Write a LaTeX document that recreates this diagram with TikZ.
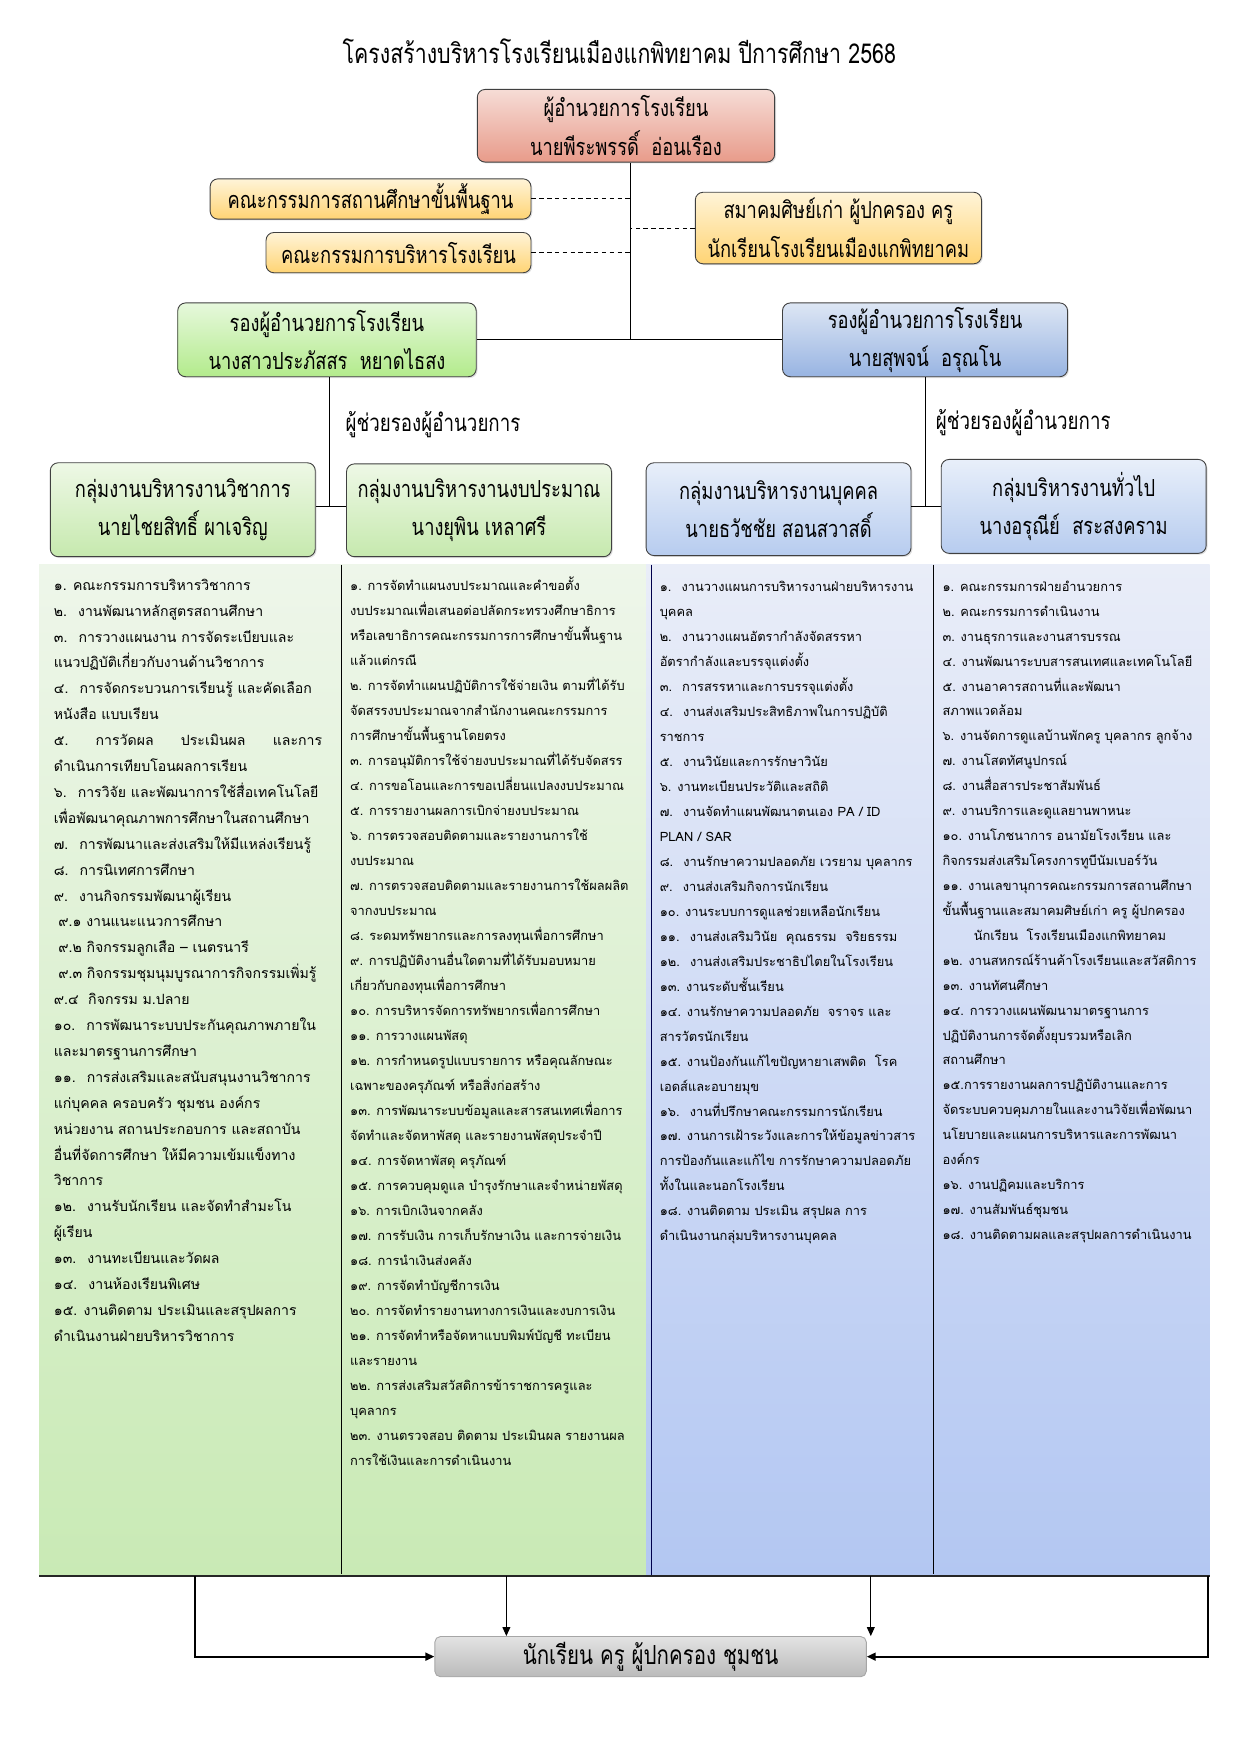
\documentclass[tikz,border=0pt]{standalone}
\usepackage{fontspec}
\setmainfont{Loma}[Script=Thai]
\newfontfamily\hd[Script=Thai,FakeStretch=0.78]{Loma}
\newfontfamily\lst[Script=Thai]{Loma}
\usetikzlibrary{arrows.meta,shadows}
\definecolor{dirTop}{HTML}{F6DCD6}\definecolor{dirBot}{HTML}{E89B8A}
\definecolor{comTop}{HTML}{FFF4D8}\definecolor{comBot}{HTML}{FFD474}
\definecolor{dlTop}{HTML}{E6F8DC}\definecolor{dlBot}{HTML}{B3EB8C}
\definecolor{drTop}{HTML}{DDE6F4}\definecolor{drBot}{HTML}{98B4E2}
\definecolor{ggTop}{HTML}{EEF8E6}\definecolor{ggBot}{HTML}{C6E9AE}
\definecolor{gbTop}{HTML}{E8EFFA}\definecolor{gbBot}{HTML}{B7CCEF}
\definecolor{cgTop}{HTML}{EEF6EA}\definecolor{cgBot}{HTML}{C9EAB5}
\definecolor{cbTop}{HTML}{E9EDF8}\definecolor{cbBot}{HTML}{B3C7F2}
\definecolor{btTop}{HTML}{E2E2E2}\definecolor{btBot}{HTML}{BABABA}
\begin{document}
\begin{tikzpicture}[x=1pt,y=-1pt,
  box/.style={draw=black!75, line width=0.8pt, rounded corners=7pt, align=center,
    inner sep=0pt, font=\hd\fontsize{21}{34.5}\selectfont,
    drop shadow={opacity=0.25,shadow xshift=1.2pt,shadow yshift=-1.2pt}},
  conn/.style={line width=1.2pt, black},
  dashln/.style={line width=0.9pt, dash pattern=on 4pt off 3pt},
  lab/.style={font=\hd\fontsize{21.5}{24}\selectfont, anchor=west, inner sep=0pt},
  itm/.style={anchor=base west, inner sep=0pt, font=\lst\fontsize{12.6}{15}\selectfont},
  itms/.style={anchor=base west, inner sep=0pt, font=\lst\fontsize{11.5}{14}\selectfont},
  arr/.style={-{Triangle[length=8pt,width=7pt]}}]
\useasboundingbox (0,0) rectangle (1110,1570);

% title
\node[font=\hd\fontsize{24.5}{28}\selectfont, inner sep=0pt] (title) at (554,46) {โครงสร้างบริหารโรงเรียนเมืองแกพิทยาคม ปีการศึกษา 2568};

% column backgrounds
\path[top color=cgTop, bottom color=cgBot] (35,505) rectangle (578,1410);
\path[top color=cbTop, bottom color=cbBot] (578,505) rectangle (1082,1410);
\draw[line width=0.7pt] (305,505) -- (305,1408);
\draw[line width=1pt, color=black!70!blue] (583,505) -- (583,1410);
\draw[line width=0.7pt] (835,505) -- (835,1408);
\draw[line width=2pt, black!85] (35,1410) -- (1082,1410);

% top boxes
\node[box, top color=dirTop, bottom color=dirBot, minimum width=266pt, minimum height=65pt] (dir) at (560,112.5) {ผู้อำนวยการโรงเรียน\\นายพีระพรรดิ์~ อ่อนเรือง};
\node[box, top color=comTop, bottom color=comBot, minimum width=287pt, minimum height=36pt] (com1) at (331.5,178) {คณะกรรมการสถานศึกษาขั้นพื้นฐาน};
\node[box, top color=comTop, bottom color=comBot, minimum width=237pt, minimum height=36pt] (com2) at (356.5,226) {คณะกรรมการบริหารโรงเรียน};
\node[box, top color=comTop, bottom color=comBot, minimum width=256pt, minimum height=64pt] (com3) at (750,204) {สมาคมศิษย์เก่า ผู้ปกครอง ครู\\นักเรียนโรงเรียนเมืองแกพิทยาคม};
\node[box, top color=dlTop, bottom color=dlBot, minimum width=267pt, minimum height=66pt] (depL) at (292.5,304) {รองผู้อำนวยการโรงเรียน\\นางสาวประภัสสร~ หยาดไธสง};
\node[box, top color=drTop, bottom color=drBot, minimum width=255pt, minimum height=66pt] (depR) at (827.5,304) {รองผู้อำนวยการโรงเรียน\\นายสุพจน์~ อรุณโน};

\coordinate (jt) at (564,303);
\draw[conn] (dir.south -| jt) -- (jt);
\draw[conn] (depL.east) -- (depR.west);
\draw[dashln] (com1.east) -- (com1.east -| jt);
\draw[dashln] (com2.east) -- (com2.east -| jt);
\draw[dashln] (com3.west) -- (com3.west -| jt);

% group boxes
\node[box, top color=ggTop, bottom color=ggBot, minimum width=237pt, minimum height=84pt] (g1) at (163.5,456) {กลุ่มงานบริหารงานวิชาการ\\นายไชยสิทธิ์ ผาเจริญ};
\node[box, top color=ggTop, bottom color=ggBot, minimum width=237pt, minimum height=83pt] (g2) at (428.5,456.5) {กลุ่มงานบริหารงานงบประมาณ\\นางยุพิน เหลาศรี};
\node[box, top color=gbTop, bottom color=gbBot, minimum width=237pt, minimum height=83pt] (g3) at (696.5,455.5) {กลุ่มงานบริหารงานบุคคล\\นายธวัชชัย สอนสวาสดิ์};
\node[box, top color=gbTop, bottom color=gbBot, minimum width=237pt, minimum height=84pt] (g4) at (960.5,453) {กลุ่มบริหารงานทั่วไป\\นางอรุณีย์~ สระสงคราม};

\coordinate (jl) at (295,453);
\coordinate (jr) at (828,453);
\draw[conn] (depL.south -| jl) -- (jl);
\draw[conn] (g1.east |- jl) -- (g2.west |- jl);
\draw[conn] (depR.south -| jr) -- (jr);
\draw[conn] (g3.east |- jr) -- (g4.west |- jr);
\node[lab] (labL) at (309,380) {ผู้ช่วยรองผู้อำนวยการ};
\node[lab] (labR) at (837,378) {ผู้ช่วยรองผู้อำนวยการ};

% column 1
\foreach \t [count=\i from 0] in {
๑. คณะกรรมการบริหารวิชาการ,
๒.~ งานพัฒนาหลักสูตรสถานศึกษา,
๓.~ การวางแผนงาน การจัดระเบียบและ,
แนวปฏิบัติเกี่ยวกับงานด้านวิชาการ,
๔.~ การจัดกระบวนการเรียนรู้ และคัดเลือก,
หนังสือ แบบเรียน,
{\hbox to 240pt{๕.\hfill การวัดผล\hfill ประเมินผล\hfill และการ}},
ดำเนินการเทียบโอนผลการเรียน,
๖.~ การวิจัย และพัฒนาการใช้สื่อเทคโนโลยี,
เพื่อพัฒนาคุณภาพการศึกษาในสถานศึกษา,
๗.~ การพัฒนาและส่งเสริมให้มีแหล่งเรียนรู้,
๘.~ การนิเทศการศึกษา,
๙.~ งานกิจกรรมพัฒนาผู้เรียน,
\hspace*{4pt}๙.๑ งานแนะแนวการศึกษา,
\hspace*{4pt}๙.๒ กิจกรรมลูกเสือ – เนตรนารี,
\hspace*{4pt}๙.๓ กิจกรรมชุมนุมบูรณาการกิจกรรมเพิ่มรู้,
๙.๔~ กิจกรรม ม.ปลาย,
๑๐.~ การพัฒนาระบบประกันคุณภาพภายใน,
และมาตรฐานการศึกษา,
๑๑.~ การส่งเสริมและสนับสนุนงานวิชาการ,
แก่บุคคล ครอบครัว ชุมชน องค์กร,
หน่วยงาน สถานประกอบการ และสถาบัน,
อื่นที่จัดการศึกษา ให้มีความเข้มแข็งทาง,
วิชาการ,
๑๒.~ งานรับนักเรียน และจัดทำสำมะโน,
ผู้เรียน,
๑๓.~ งานทะเบียนและวัดผล,
๑๔.~ งานห้องเรียนพิเศษ,
๑๕. งานติดตาม ประเมินและสรุปผลการ,
ดำเนินงานฝ่ายบริหารวิชาการ}
  \node[itm] (ca\i) at (48,528+\i*23.17) {\t};

% column 2
\foreach \t [count=\i from 0] in {
๑. การจัดทำแผนงบประมาณและคำขอตั้ง,
งบประมาณเพื่อเสนอต่อปลัดกระทรวงศึกษาธิการ,
หรือเลขาธิการคณะกรรมการการศึกษาขั้นพื้นฐาน,
แล้วแต่กรณี,
๒. การจัดทำแผนปฏิบัติการใช้จ่ายเงิน ตามที่ได้รับ,
จัดสรรงบประมาณจากสำนักงานคณะกรรมการ,
การศึกษาขั้นพื้นฐานโดยตรง,
๓. การอนุมัติการใช้จ่ายงบประมาณที่ได้รับจัดสรร,
๔. การขอโอนและการขอเปลี่ยนแปลงงบประมาณ,
๕. การรายงานผลการเบิกจ่ายงบประมาณ,
๖. การตรวจสอบติดตามและรายงานการใช้,
งบประมาณ,
๗. การตรวจสอบติดตามและรายงานการใช้ผลผลิต,
จากงบประมาณ,
๘. ระดมทรัพยากรและการลงทุนเพื่อการศึกษา,
๙. การปฏิบัติงานอื่นใดตามที่ได้รับมอบหมาย,
เกี่ยวกับกองทุนเพื่อการศึกษา,
๑๐. การบริหารจัดการทรัพยากรเพื่อการศึกษา,
๑๑. การวางแผนพัสดุ,
๑๒. การกำหนดรูปแบบรายการ หรือคุณลักษณะ,
เฉพาะของครุภัณฑ์ หรือสิ่งก่อสร้าง,
๑๓. การพัฒนาระบบข้อมูลและสารสนเทศเพื่อการ,
จัดทำและจัดหาพัสดุ และรายงานพัสดุประจำปี,
๑๔. การจัดหาพัสดุ ครุภัณฑ์,
๑๕. การควบคุมดูแล บำรุงรักษาและจำหน่ายพัสดุ,
๑๖. การเบิกเงินจากคลัง,
๑๗. การรับเงิน การเก็บรักษาเงิน และการจ่ายเงิน,
๑๘. การนำเงินส่งคลัง,
๑๙. การจัดทำบัญชีการเงิน,
๒๐. การจัดทำรายงานทางการเงินและงบการเงิน,
๒๑. การจัดทำหรือจัดหาแบบพิมพ์บัญชี ทะเบียน,
และรายงาน,
๒๒. การส่งเสริมสวัสดิการข้าราชการครูและ,
บุคลากร,
๒๓. งานตรวจสอบ ติดตาม ประเมินผล รายงานผล,
การใช้เงินและการดำเนินงาน}
  \node[itms] (cb\i) at (313,528+\i*22.37) {\t};

% column 3
\foreach \t [count=\i from 0] in {
๑.~ งานวางแผนการบริหารงานฝ่ายบริหารงาน,
บุคคล,
๒.~ งานวางแผนอัตรากำลังจัดสรรหา,
อัตรากำลังและบรรจุแต่งตั้ง,
๓.~ การสรรหาและการบรรจุแต่งตั้ง,
๔.~ งานส่งเสริมประสิทธิภาพในการปฏิบัติ,
ราชการ,
๕.~ งานวินัยและการรักษาวินัย,
๖. งานทะเบียนประวัติและสถิติ,
๗.~ งานจัดทำแผนพัฒนาตนเอง PA / ID,
PLAN / SAR,
๘.~ งานรักษาความปลอดภัย เวรยาม บุคลากร,
๙.~ งานส่งเสริมกิจการนักเรียน,
๑๐. งานระบบการดูแลช่วยเหลือนักเรียน,
๑๑.~ งานส่งเสริมวินัย~ คุณธรรม~ จริยธรรม,
๑๒.~ งานส่งเสริมประชาธิปไตยในโรงเรียน,
๑๓. งานระดับชั้นเรียน,
๑๔. งานรักษาความปลอดภัย~ จราจร และ,
สารวัตรนักเรียน,
๑๕. งานป้องกันแก้ไขปัญหายาเสพติด~ โรค,
เอดส์และอบายมุข,
๑๖.~ งานที่ปรึกษาคณะกรรมการนักเรียน,
๑๗. งานการเฝ้าระวังและการให้ข้อมูลข่าวสาร,
การป้องกันและแก้ไข การรักษาความปลอดภัย,
ทั้งในและนอกโรงเรียน,
๑๘. งานติดตาม ประเมิน สรุปผล การ,
ดำเนินงานกลุ่มบริหารงานบุคคล}
  \node[itms] (cc\i) at (590,529+\i*22.35) {\t};

% column 4
\foreach \t [count=\i from 0] in {
๑. คณะกรรมการฝ่ายอำนวยการ,
๒. คณะกรรมการดำเนินงาน,
๓. งานธุรการและงานสารบรรณ,
๔. งานพัฒนาระบบสารสนเทศและเทคโนโลยี,
๕. งานอาคารสถานที่และพัฒนา,
สภาพแวดล้อม,
๖. งานจัดการดูแลบ้านพักครู บุคลากร ลูกจ้าง,
๗. งานโสตทัศนูปกรณ์,
๘. งานสื่อสารประชาสัมพันธ์,
๙. งานบริการและดูแลยานพาหนะ,
๑๐. งานโภชนาการ อนามัยโรงเรียน และ,
กิจกรรมส่งเสริมโครงการทูบีนัมเบอร์วัน,
๑๑. งานเลขานุการคณะกรรมการสถานศึกษา,
ขั้นพื้นฐานและสมาคมศิษย์เก่า ครู ผู้ปกครอง,
\hspace*{28pt}นักเรียน~ โรงเรียนเมืองแกพิทยาคม,
๑๒. งานสหกรณ์ร้านค้าโรงเรียนและสวัสดิการ,
๑๓. งานทัศนศึกษา,
๑๔. การวางแผนพัฒนามาตรฐานการ,
ปฏิบัติงานการจัดตั้งยุบรวมหรือเลิก,
สถานศึกษา,
๑๕.การรายงานผลการปฏิบัติงานและการ,
จัดระบบควบคุมภายในและงานวิจัยเพื่อพัฒนา,
นโยบายและแผนการบริหารและการพัฒนา,
องค์กร,
๑๖. งานปฏิคมและบริการ,
๑๗. งานสัมพันธ์ชุมชน,
๑๘. งานติดตามผลและสรุปผลการดำเนินงาน}
  \node[itms] (cd\i) at (843,529+\i*22.3) {\t};

% bottom
\node[draw=black!35, line width=0.8pt, rounded corners=5pt, top color=btTop, bottom color=btBot,
  minimum width=386pt, minimum height=36pt, inner sep=0pt, font=\hd\fontsize{23.5}{26}\selectfont] (bot) at (582,1482) {นักเรียน ครู ผู้ปกครอง ชุมชน};
\coordinate (bl) at (174,1410);
\coordinate (br) at (1081,1410);
\coordinate (d1) at (453,1410);
\coordinate (d2) at (779,1410);
\draw[arr, line width=1.8pt] (bl) |- (bot.west);
\draw[arr, line width=1.8pt] (br) |- (bot.east);
\draw[arr, line width=0.9pt] (d1) -- (d1 |- bot.north);
\draw[arr, line width=0.9pt] (d2) -- (d2 |- bot.north);
\end{tikzpicture}
\end{document}
